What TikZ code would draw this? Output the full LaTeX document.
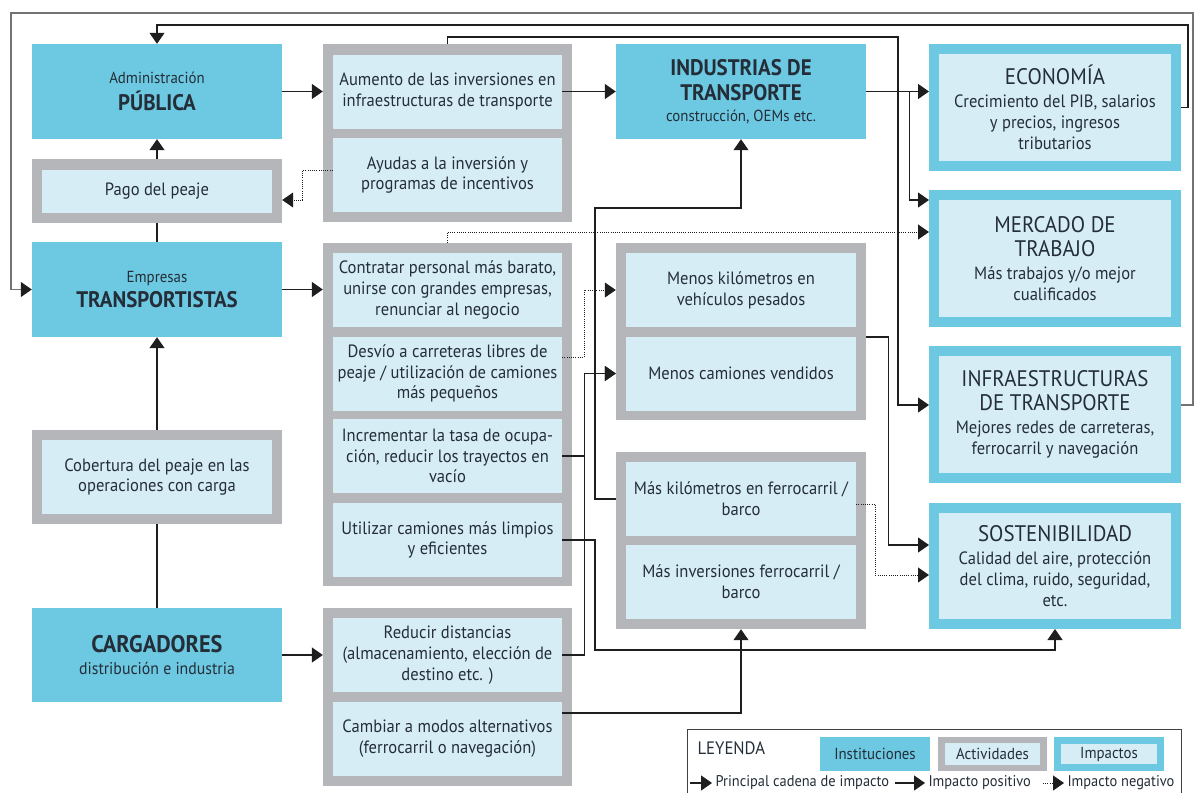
\documentclass[tikz,border=0pt]{standalone}
\usepackage{fontspec}
\setmainfont{PT Sans}[FakeStretch=0.93]
\usetikzlibrary{arrows.meta}
\definecolor{instblue}{RGB}{109,200,226}
\definecolor{paleblue}{RGB}{215,237,246}
\definecolor{actgray}{RGB}{180,182,185}
\definecolor{ink}{RGB}{36,46,56}
\definecolor{lin}{RGB}{30,30,30}
\newcommand\titfont{\fontsize{22.5}{25}\selectfont}
\newcommand\bodfont{\fontsize{17.8}{20.8}\selectfont}
\newcommand\smlfont{\fontsize{16}{19}\selectfont}
\newcommand\legfont{\fontsize{15.5}{18}\selectfont}
\begin{document}
\begin{tikzpicture}[x=1pt,y=-1pt,
  inst/.style={fill=instblue,text=ink,minimum width=250pt,align=center,inner sep=0pt,font=\titfont},
  grp/.style={fill=actgray,minimum width=249pt,inner sep=0pt},
  act/.style={fill=paleblue,text=ink,minimum width=229pt,minimum height=74pt,align=center,inner sep=0pt,font=\bodfont},
  imp/.style={fill=paleblue,draw=instblue,line width=10pt,minimum width=242pt,align=center,inner sep=0pt,text=ink,font=\bodfont},
  link/.style={draw=lin,line width=1.1pt},
  mainarr/.style={draw=lin,line width=1.4pt,-{Triangle[length=11pt,width=15pt]}},
  posarr/.style={draw=lin,line width=1.1pt,-{Triangle[length=11pt,width=15pt]}},
  fbarr/.style={draw=black!55,line width=1.1pt,-{Triangle[length=11pt,width=15pt,color=lin]}},
  negarr/.style={draw=lin,line width=1pt,dash pattern=on 1pt off 1.2pt,-{Triangle[length=11pt,width=15pt]}}]
\useasboundingbox (0,0) rectangle (1195,793);

% instituciones
\node[inst,minimum height=95pt] (admin) at (157,91.5) {{\smlfont Administración}\\[2pt]{\bfseries PÚBLICA}};
\node[grp,minimum width=250pt,minimum height=64pt] (pagogrp) at (157,191) {};
\node[act,minimum width=230pt,minimum height=43pt] (pago) at (157,191.5) {Pago del peaje};
\node[inst,minimum height=95pt] (empresas) at (157,289.5) {{\smlfont Empresas}\\[0pt]{\bfseries TRANSPORTISTAS}};
\node[grp,minimum width=250pt,minimum height=94pt] (cobgrp) at (157,477) {};
\node[act,minimum width=230pt] (cobertura) at (157,477) {Cobertura del peaje en las\\operaciones con carga};
\node[inst,minimum height=94pt] (cargadores) at (157,655) {{\fontsize{24}{26}\selectfont\bfseries CARGADORES}\\[-3pt]{\fontsize{17}{19}\selectfont distribución e industria}};

% actividades
\node[grp,minimum height=178pt] (g1) at (447.5,133) {};
\node[act] (aumento) at (447.5,91.5) {Aumento de las inversiones en\\infraestructuras de transporte};
\node[act] (ayudas) at (447.5,175) {Ayudas a la inversión y\\programas de incentivos};
\node[grp,minimum height=343pt] (g2) at (447.5,414.5) {};
\node[act] (contratar) at (447.5,290) {Contratar personal más barato,\\unirse con grandes empresas,\\renunciar al negocio};
\node[act] (desvio) at (447.5,373.5) {Desvío a carreteras libres de\\peaje / utilización de camiones\\más pequeños};
\node[act] (incrementar) at (447.5,456) {Incrementar la tasa de ocupa-\\ción, reducir los trayectos en\\vacío};
\node[act] (utilizar) at (447.5,540) {Utilizar camiones más limpios\\y eficientes};
\node[grp,minimum height=178pt] (g3) at (447.5,697) {};
\node[act] (reducir) at (447.5,655) {Reducir distancias\\(almacenamiento, elección de\\destino etc. )};
\node[act] (cambiar) at (447.5,739) {Cambiar a modos alternativos\\(ferrocarril o navegación)};

% resultados
\node[inst,minimum height=95pt] (industrias) at (741,91.5) {{\bfseries INDUSTRIAS DE}\\{\bfseries TRANSPORTE}\\[-4pt]{\smlfont construcción, OEMs etc.}};
\node[grp,minimum width=250pt,minimum height=177pt] (menosgrp) at (741,331.5) {};
\node[act,minimum width=230pt] (menoskm) at (741,290) {Menos kilómetros en\\vehículos pesados};
\node[act,minimum width=230pt] (menoscam) at (741,373.5) {Menos camiones vendidos};
\node[grp,minimum width=250pt,minimum height=177pt] (masgrp) at (741,540.5) {};
\node[act,minimum width=230pt] (maskm) at (741,499) {Más kilómetros en ferrocarril /\\barco};
\node[act,minimum width=230pt] (masinv) at (741,582) {Más inversiones ferrocarril /\\barco};

% impactos
\node[imp,minimum height=117pt] (economia) at (1055,107.5) {{\titfont ECONOMÍA}\\[2pt]Crecimiento del PIB, salarios\\y precios, ingresos\\tributarios};
\node[imp,minimum height=127pt] (mercado) at (1055,258.5) {{\titfont MERCADO DE}\\[3pt]{\titfont TRABAJO}\\[2pt]Más trabajos y/o mejor\\cualificados};
\node[imp,minimum height=127pt] (infra) at (1055,414.5) {{\titfont INFRAESTRUCTURAS}\\[3pt]{\titfont DE TRANSPORTE}\\[2pt]Mejores redes de carreteras,\\ferrocarril y navegación};
\node[imp,minimum height=116pt] (sost) at (1055,566) {{\titfont SOSTENIBILIDAD}\\[2pt]Calidad del aire, protección\\del clima, ruido, seguridad,\\etc.};

% cadena principal
\draw[link] (empresas.north) -- (pagogrp.south);
\draw[mainarr] (pagogrp.north) -- (admin.south);
\draw[link] (cargadores.north) -- (cobgrp.south);
\draw[mainarr] (cobgrp.north) -- (empresas.south);
\draw[mainarr] (admin.east) -- (admin.east -| g1.west);
\draw[mainarr] (empresas.east) -- (empresas.east -| g2.west);
\draw[mainarr] (cargadores.east) -- (cargadores.east -| g3.west);
\draw[mainarr] (aumento.east) -- (aumento.east -| industrias.west);
\draw[mainarr] (industrias.east) -- (industrias.east -| economia.west);
\draw[posarr] (industrias.east) -- ++(43,0) |- ([yshift=58.5pt]mercado.west);

% retroalimentacion
\coordinate (econup) at (1188,25);
\draw[posarr] (economia.east) -| (econup) -| (admin.north);
\coordinate (infraup) at (1193,13);
\coordinate (leftdown) at (11,13);
\draw[fbarr] ([yshift=9.5pt]infra.east) -| (infraup) -- (leftdown) |- (empresas.west);
\coordinate (g1up) at (898,37);
\draw[posarr] (g1.north) |- (g1up) |- ([yshift=9.5pt]infra.west);

% impactos positivos y negativos
\draw[negarr] ([yshift=5pt]ayudas.west) -- ++(-30,0) |- ([yshift=-9pt]pagogrp.east);
\draw[negarr] (g2.north) |- ([yshift=26.5pt]mercado.west);
\draw[negarr] ([yshift=16.5pt]desvio.east) -- ++(22,0) |- (menoskm.west -| menosgrp.west);
\draw[posarr] (incrementar.east) -- ++(22,0) |- (menoscam.west -| menosgrp.west);
\draw[posarr] (reducir.east) -- ++(22,0) |- (menoscam.west -| menosgrp.west);
\coordinate (indlow) at (595,208);
\draw[posarr] (maskm.west -| masgrp.west) -| (indlow) -| (industrias.south);
\coordinate (utdown) at (595,650);
\draw[posarr] (utilizar.east) -| (utdown) -| (sost.south);
\draw[posarr] ([yshift=26pt]cambiar.east) -| (masgrp.south);
\draw[posarr] ([yshift=-5.5pt]menosgrp.east) -- ++(22,0) |- ([yshift=21pt]sost.west);
\draw[negarr] ([yshift=-5pt]maskm.east) -- ++(19,0) |- ([yshift=-9pt]sost.west);

% leyenda
\draw[draw=black!75,line width=1pt] (687,800) |- (1181,729) -- (1181,800);
\node[anchor=west,text=ink,font=\fontsize{18}{20}\selectfont] (leytit) at (694,748) {LEYENDA};
\node[inst,minimum width=110pt,minimum height=34pt,font=\smlfont] (leyinst) at (875,754) {Instituciones};
\node[grp,minimum width=109pt,minimum height=34pt] (leyactgrp) at (992.5,754) {};
\node[act,minimum width=95pt,minimum height=22pt,font=\smlfont] (leyact) at (992.5,754) {Actividades};
\node[imp,line width=7pt,minimum width=103pt,minimum height=27pt,font=\smlfont] (leyimp) at (1109,754) {Impactos};
\coordinate (lmainst) at (690,783);
\node[anchor=west,text=ink,font=\legfont] (lmain) at (712,783) {Principal cadena de impacto};
\draw[mainarr] (lmainst) -- (lmain.west);
\coordinate (lposst) at (895,783);
\node[anchor=west,text=ink,font=\legfont] (lpos) at (925,783) {Impacto positivo};
\draw[posarr] (lposst) -- (lpos.west);
\coordinate (lnegst) at (1043,783);
\node[anchor=west,text=ink,font=\legfont] (lneg) at (1064,783) {Impacto negativo};
\draw[negarr] (lnegst) -- (lneg.west);
\end{tikzpicture}
\end{document}
